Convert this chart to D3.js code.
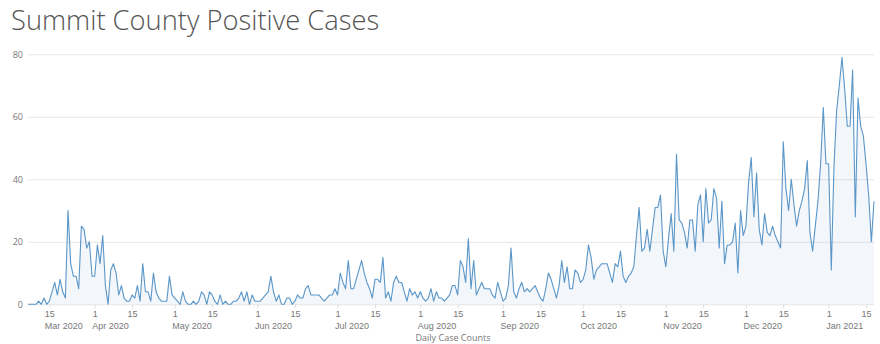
<!DOCTYPE html>
<html>
<head>
<meta charset="utf-8">
<script src="https://cdn.jsdelivr.net/npm/d3@7"></script>
<style>
  html, body { margin: 0; padding: 0; background: #fff; }
  svg { display: block; font-family: "Open Sans", "Noto Sans", sans-serif; }
</style>
</head>
<body>
<svg id="chart" width="880" height="344"></svg>
<script>
// ---- data ----
const titleText = "Summit County Positive Cases";
const xAxisTitle = "Daily Case Counts";
const startDate = [2020, 2, 7];   // 7 Mar 2020, first day of the series
const dailyCases = [
  0,0,0,0,1,0,2,0,1,4, 7,3,8,4,2,30,13,9,9,5,
  25,24,18,20,9,9,19,13,22,6, 0,11,13,10,3,6,2,1,1,3,
  2,6,1,13,4,4,1,10,4,2, 1,1,1,9,3,2,1,0,4,1,
  0,0,1,0,1,4,3,0,4,3, 1,0,3,0,1,0,0,1,1,2,
  4,1,4,0,3,1,1,1,2,3, 4,9,4,1,3,0,0,2,2,0,
  1,3,2,2,5,6,3,3,3,3, 2,1,2,3,3,5,3,10,7,5,
  14,5,5,8,11,14,10,7,5,2, 8,8,7,15,2,4,1,7,9,7,
  7,4,1,5,3,4,2,4,2,1, 2,5,1,4,2,2,1,2,3,6,
  6,3,14,12,7,21,5,14,3,5, 7,5,5,5,3,2,7,4,1,2,
  6,18,4,2,5,7,4,5,4,5, 6,4,2,1,5,10,8,5,2,6,
  14,7,12,5,5,11,10,7,8,11, 19,15,8,11,12,13,13,13,10,7,
  13,12,17,9,7,9,10,12,22,31, 17,18,24,17,24,31,31,35,17,12,
  21,29,17,48,27,26,23,18,27,27, 17,32,35,20,37,26,27,37,34,18,
  33,13,19,19,20,26,10,30,22,25, 39,47,28,42,24,19,29,23,22,25,
  22,20,18,52,37,30,40,32,25,30, 33,37,46,23,17,25,33,45,63,45,
  45,11,44,62,70,79,69,57,57,75, 28,66,57,54,45,35,20,33
];
const yTicks = [0, 20, 40, 60, 80];
const tickMonths = ["Mar 2020","Apr 2020","May 2020","Jun 2020","Jul 2020","Aug 2020",
                    "Sep 2020","Oct 2020","Nov 2020","Dec 2020","Jan 2021"];
const tickDays = [1, 15];

// ---- build ----
const data = dailyCases.map((v, i) => ({
  date: new Date(startDate[0], startDate[1], startDate[2] + i),
  value: v
}));

const svg = d3.select("#chart");
const plotLeft = 28, plotRight = 874, plotTop = 54.3, plotBottom = 304.3;

const x = d3.scaleTime()
  .domain(d3.extent(data, d => d.date))
  .range([plotLeft, plotRight]);
const y = d3.scaleLinear().domain([0, 80]).range([plotBottom, plotTop]);

// title
svg.append("text")
  .attr("x", 11).attr("y", 30)
  .attr("font-size", 27.3).attr("font-weight", 300)
  .attr("fill", "#555")
  .text(titleText);

// gridlines + y labels
const yAxis = d3.axisLeft(y).tickValues(yTicks).tickSize(-(plotRight - plotLeft)).tickPadding(5);
const gy = svg.append("g").attr("transform", `translate(${plotLeft},0)`).call(yAxis);
gy.select(".domain").remove();
gy.selectAll(".tick line").attr("stroke", "#e6e6e6").attr("stroke-width", 1);
gy.selectAll(".tick text").attr("fill", "#777").attr("font-size", 9)
  .attr("font-family", "'Open Sans', sans-serif");

// x ticks
const tickVals = [];
tickMonths.forEach(m => {
  const base = d3.timeParse("%b %Y")(m);
  tickDays.forEach(dd => {
    const t = new Date(base.getFullYear(), base.getMonth(), dd);
    if (t >= x.domain()[0] && t <= x.domain()[1]) tickVals.push(t);
  });
});

const xAxis = d3.axisBottom(x).tickValues(tickVals).tickSize(4).tickPadding(3)
  .tickFormat(d => "");
const gx = svg.append("g").attr("transform", `translate(0,${plotBottom})`).call(xAxis);
gx.select(".domain").remove();
gx.selectAll(".tick line").attr("stroke", "#e0e0e0");
gx.selectAll(".tick").each(function(d, i) {
  const g = d3.select(this);
  g.append("text").attr("y", 13).attr("text-anchor", "middle")
    .attr("fill", "#777").attr("font-size", 9)
    .text(d.getDate());
  if (d.getDate() === 1 || i === 0) {
    g.append("text").attr("x", i === 0 ? -5 : -3).attr("y", 24.5).attr("text-anchor", "start")
      .attr("fill", "#777").attr("font-size", 9)
      .text(d3.timeFormat("%b %Y")(d));
  }
});

// area + line
const area = d3.area().x(d => x(d.date)).y0(y(0)).y1(d => y(d.value));
const line = d3.line().x(d => x(d.date)).y(d => y(d.value));
svg.append("path").datum(data).attr("d", area).attr("fill", "rgba(120,160,205,0.09)");
svg.append("path").datum(data).attr("d", line)
  .attr("fill", "none").attr("stroke", "#5a96c8").attr("stroke-width", 1.1)
  .attr("stroke-linejoin", "round");

// x axis title
svg.append("text")
  .attr("x", (plotLeft + plotRight) / 2 + 2).attr("y", 341)
  .attr("text-anchor", "middle").attr("fill", "#777").attr("font-size", 9)
  .text(xAxisTitle);
</script>
</body>
</html>
